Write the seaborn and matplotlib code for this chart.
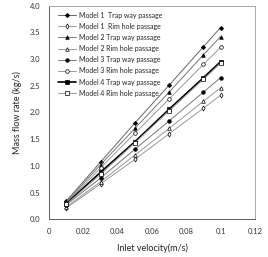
import matplotlib as mpl
mpl.use('Agg')
from matplotlib import pyplot as plt
import numpy as np
import pandas as pd
import seaborn as sb

sb.set_style("white")
plt.rcParams['font.family'] = ['Lato', 'DejaVu Sans']

# inlet velocity (m/s)
vel = [0.01, 0.03, 0.05, 0.07, 0.09, 0.1]

m1_trap = [0.34, 1.07, 1.80, 2.51, 3.23, 3.59]
m1_rim = [0.21, 0.66, 1.12, 1.60, 2.08, 2.32]
m2_trap = [0.32, 1.02, 1.70, 2.38, 3.08, 3.42]
m2_rim = [0.23, 0.70, 1.20, 1.70, 2.21, 2.46]
m3_trap = [0.27, 0.77, 1.31, 1.84, 2.38, 2.65]
m3_rim = [0.30, 0.96, 1.61, 2.25, 2.90, 3.22]
m4_trap = [0.29, 0.88, 1.45, 2.06, 2.65, 2.95]
m4_rim = [0.28, 0.84, 1.43, 2.03, 2.62, 2.92]

labels = ["Model 1  Trap way passage", "Model 1  Rim hole passage",
          "Model 2 Trap way passage", "Model 2 Rim hole passage",
          "Model 3 Trap way passage", "Model 3 Rim hole passage",
          "Model 4 Trap way passage", "Model 4 Rim hole passage"]
series = [m1_trap, m1_rim, m2_trap, m2_rim, m3_trap, m3_rim, m4_trap, m4_rim]

# marker, filled, size, line colour, line width
styles = [('D', True, 2.2, '#666666', 0.7),
          ('d', False, 2.6, '#999999', 0.7),
          ('^', True, 2.6, '#777777', 0.7),
          ('^', False, 2.6, '#999999', 0.7),
          ('o', True, 2.6, '#777777', 0.7),
          ('o', False, 2.6, '#999999', 0.7),
          ('s', True, 3.2, 'black', 1.2),
          ('s', False, 2.6, '#999999', 0.7)]

fig = plt.figure(figsize=(2.68, 2.57), dpi=100)
ax1 = fig.add_axes([0.183, 0.147, 0.768, 0.831])

for lab, vals, (mk, filled, ms, lc, lw) in zip(labels, series, styles):
    df = pd.DataFrame({"v": vel, "m": vals})
    sb.lineplot(data=df, x="v", y="m", ax=ax1, label=lab, color=lc, lw=lw,
                marker=mk, markersize=ms, markeredgecolor='black',
                markerfacecolor='black' if filled else 'white',
                markeredgewidth=0.5)

ax1.set_xlim(0, 0.12)
ax1.set_ylim(0, 4.0)
ax1.set_xticks([0, 0.02, 0.04, 0.06, 0.08, 0.1, 0.12])
ax1.set_xticklabels(["0", "0.02", "0.04", "0.06", "0.08", "0.1", "0.12"])
ax1.set_yticks(np.arange(0, 4.01, 0.5))
ax1.set_yticklabels(["%.1f" % t for t in np.arange(0, 4.01, 0.5)])
ax1.tick_params(axis='both', labelsize=5.5, width=0.6,
                direction='inout', length=3, colors='#333333', pad=5)
for s in ax1.spines.values():
    s.set_linewidth(0.6)
    s.set_color('#444444')
ax1.spines['top'].set_color('#999999')
ax1.spines['right'].set_color('#999999')

ax1.set_xlabel("Inlet velocity(m/s)", fontsize=6.5, color='#222222', labelpad=6)
ax1.set_ylabel("Mass flow rate (kg/s)", fontsize=6.5, color='#222222', labelpad=5)

leg = ax1.legend(loc='upper left', fontsize=5, frameon=False, handlelength=2.6,
                 labelspacing=0.6, borderaxespad=0.3, handletextpad=0.4,
                 bbox_to_anchor=(0.02, 0.995))

fig.savefig('out.png', format='png', dpi=100)
